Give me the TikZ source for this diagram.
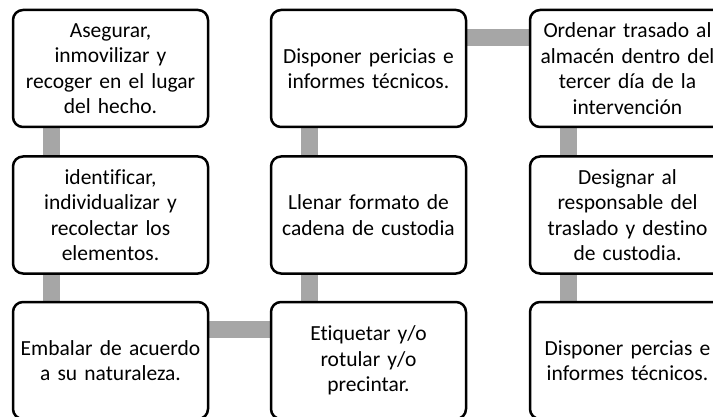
\documentclass[tikz,border=0pt]{standalone}
\usepackage{fontspec}
\setmainfont[Ligatures=NoCommon]{Carlito}
\usetikzlibrary{backgrounds}

\definecolor{grisenlace}{HTML}{A6A6A6}
\def\ancho{195}
\def\alto{117}

\tikzset{
  paso/.style={draw=black, fill=white, line width=2.5pt, rounded corners=10pt,
    minimum width=\ancho pt, minimum height=\alto pt, text width=190pt,
    align=center, inner sep=0pt, anchor=center,
    font=\fontsize{21.5}{25.5}\selectfont},
  enlace/.style={draw=grisenlace, line width=17pt}
}

\begin{document}
\begin{tikzpicture}[x=1pt, y=-1pt]
      \useasboundingbox (0,0) rectangle (713,417);
      \clip (0,0) rectangle (713,417);
      % primera columna
      \node[paso] (asegurar) at (110.5, 68.5) {Asegurar,\\inmovilizar y\\recoger en el lugar\\del hecho.};
      \node[paso] (identificar) at (110.5, 215) {identificar,\\individualizar y\\recolectar los\\elementos.};
      \node[paso] (embalar) at (110.5, 360.5) {Embalar de acuerdo\\a su naturaleza.};
      % segunda columna
      \node[paso] (etiquetar) at (368.5, 360.5) {Etiquetar y/o\\rotular y/o\\precintar.};
      \node[paso] (llenar) at (368.5, 215) {Llenar formato de\\cadena de custodia};
      \node[paso] (pericias) at (368.5, 68.5) {Disponer pericias e\\informes técnicos.};
      % tercera columna
      \node[paso] (ordenar) at (627.5, 68.5) {Ordenar trasado al\\almacén dentro del\\tercer día de la\\intervención};
      \node[paso] (designar) at (627.5, 215) {Designar al\\responsable del\\traslado y destino\\de custodia.};
      \node[paso] (percias) at (627.5, 360.5) {Disponer percias e\\informes técnicos.};
      \begin{scope}[on background layer]
        \draw[enlace] ([xshift=40pt]asegurar.south west) -- ([xshift=40pt]identificar.north west);
        \draw[enlace] ([xshift=40pt]identificar.south west) -- ([xshift=40pt]embalar.north west);
        \draw[enlace] ([yshift=-29pt]embalar.north east) -- ([yshift=-29pt]etiquetar.north west);
        \draw[enlace] ([xshift=40pt]etiquetar.north west) -- ([xshift=40pt]llenar.south west);
        \draw[enlace] ([xshift=40pt]llenar.north west) -- ([xshift=40pt]pericias.south west);
        \draw[enlace] ([yshift=-29pt]pericias.north east) -- ([yshift=-29pt]ordenar.north west);
        \draw[enlace] ([xshift=40pt]ordenar.south west) -- ([xshift=40pt]designar.north west);
        \draw[enlace] ([xshift=40pt]designar.south west) -- ([xshift=40pt]percias.north west);
      \end{scope}
    \end{tikzpicture}
\end{document}
